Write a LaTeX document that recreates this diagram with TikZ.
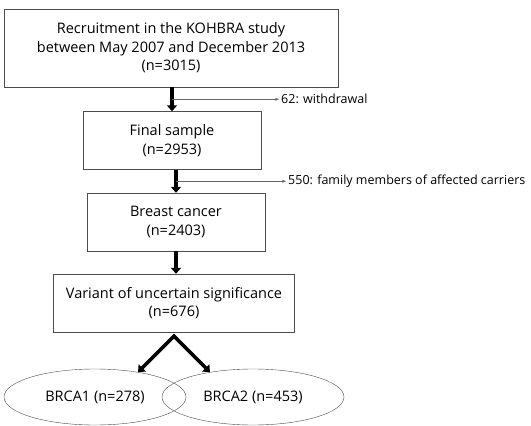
\documentclass[tikz,border=0pt]{standalone}
\usepackage{xcolor}
\usepackage{amsmath}
\usepackage{fontspec}
\setmainfont{Open Sans}
\usepackage{tikz}
\usetikzlibrary{positioning,arrows.meta,shapes.geometric}

\begin{document}
\begin{tikzpicture}[x=1pt,y=1pt,node distance=82pt,on grid,font=\fontsize{14.5}{18.5}\selectfont]
        \tikzstyle{box}=[draw=black!70,thin,align=center,minimum width=178pt,minimum height=58pt,inner sep=2pt]
        \tikzstyle{group}=[draw=black!70,thin,ellipse,minimum width=182pt,minimum height=56pt,inner sep=0pt]
        \tikzstyle{flow}=[line width=3.5pt,-{Triangle[width=10pt,length=6pt]}]
        \tikzstyle{drop}=[black!60,line width=0.6pt,-{Stealth[length=4pt,width=3pt]}]
        \tikzstyle{note}=[anchor=west,inner sep=2pt,font=\fontsize{12.5}{15}\selectfont]
        \useasboundingbox (0,0) rectangle (531,-426);
        \node[box,minimum width=334pt,minimum height=78pt] (Rc) at (171,-48) {Recruitment in the KOHBRA study\\between May 2007 and December 2013\\(n=3015)};
        \node[box] (Fs) [below=92.5pt of Rc,xshift=1pt] {Final sample\\(n=2953)};
        \node[box] (Bc) [below=81.5pt of Fs,xshift=4pt] {Breast cancer\\(n=2403)};
        \node[box,minimum width=241pt] (Vu) [below=81pt of Bc,xshift=-2pt] {Variant of uncertain significance\\(n=676)};
        \node[group] (B1) [below left=94pt and 79pt of Vu] {BRCA1 (n=278)};
        \node[group] (B2) [below right=94pt and 79pt of Vu] {BRCA2 (n=453)};
        % main flow
        \draw[flow] (Rc.south -| Fs.north) -- (Fs.north);
        \draw[flow] (Bc.north |- Fs.south) -- (Bc.north);
        \draw[flow] (Bc.south) -- (Bc.south |- Vu.north);
        \coordinate[below=4pt of Vu.south] (Fk);
        \draw[flow,{Triangle[width=10pt,length=6pt]}-{Triangle[width=10pt,length=6pt]}] (B1.30) -- (Fk) -- (B2.150);
        % excluded
        \path (Rc.south -| Fs.north) -- (Fs.north) coordinate[pos=0.5] (w1);
        \path (Bc.north |- Fs.south) -- (Bc.north) coordinate[pos=0.5] (w2);
        \node[note] (Wd) [right=107pt of w1] {62: withdrawal};
        \node[note] (Fm) [right=110pt of w2] {550: family members of affected carriers};
        \draw[drop] (w1) -- (Wd.west);
        \draw[drop] (w2) -- (Fm.west);
    \end{tikzpicture}
\end{document}
